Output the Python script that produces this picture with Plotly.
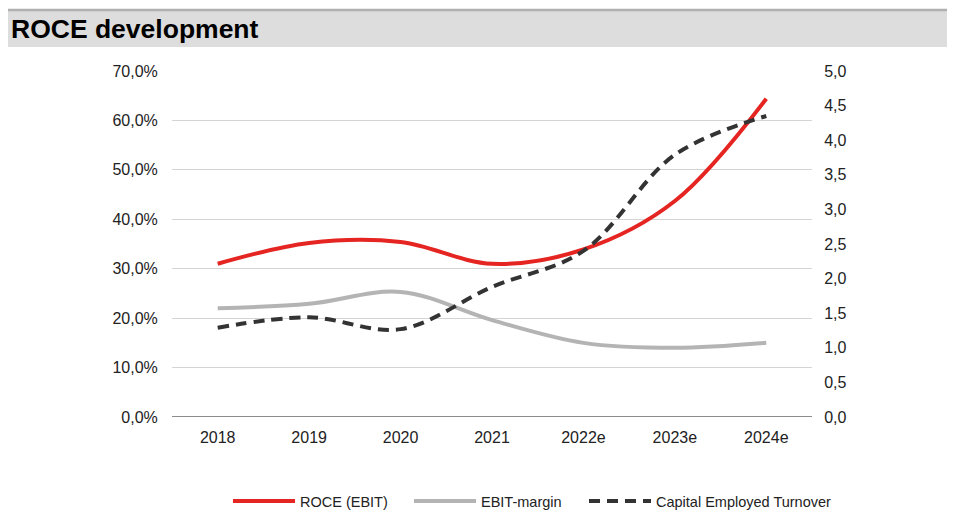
import plotly.graph_objects as go

years = ["2018", "2019", "2020", "2021", "2022e", "2023e", "2024e"]
roce = [0.310, 0.352, 0.354, 0.310, 0.339, 0.437, 0.644]
ebit_margin = [0.220, 0.229, 0.253, 0.196, 0.150, 0.140, 0.150]
cet = [1.29, 1.44, 1.27, 1.88, 2.40, 3.79, 4.35]

left_ticks = [0.0, 0.1, 0.2, 0.3, 0.4, 0.5, 0.6, 0.7]
right_ticks = [0.0, 0.5, 1.0, 1.5, 2.0, 2.5, 3.0, 3.5, 4.0, 4.5, 5.0]

FONT = "Liberation Sans, Arial, sans-serif"

# page is offset by 8px body margin
OFF = 8
W, H = 955 - OFF, 512 - OFF
L, T = 172 - OFF, 71 - OFF
PW, PH = 640, 346
R = W - L - PW
B = H - T - PH


def px(x_page):
    return (x_page - OFF - L) / PW


def py(y_page):
    return 1 - (y_page - OFF - T) / PH


fig = go.Figure()
fig.add_trace(go.Scatter(x=years, y=roce, name="ROCE (EBIT)", mode="lines", legend="legend",
                         line=dict(color="#e52521", width=4, shape="spline", smoothing=1.0)))
fig.add_trace(go.Scatter(x=years, y=ebit_margin, name="EBIT-margin", mode="lines", legend="legend2",
                         line=dict(color="#b4b4b4", width=4, shape="spline", smoothing=1.0)))
fig.add_trace(go.Scatter(x=years, y=cet, name="Capital Employed Turnover", mode="lines", yaxis="y2",
                         legend="legend3",
                         line=dict(color="#333333", width=4, dash="11px,7px", shape="spline", smoothing=1.0)))

leg_common = dict(orientation="h", xanchor="left", y=py(501), yanchor="middle",
                  font=dict(size=14.5, color="#222222"), itemwidth=62,
                  bgcolor="rgba(0,0,0,0)")

fig.update_layout(
    width=W, height=H,
    margin=dict(l=L, r=R, t=T, b=B, pad=0, autoexpand=False),
    paper_bgcolor="white", plot_bgcolor="white",
    separators=",.",
    font=dict(family=FONT, size=16, color="#222222"),
    showlegend=True,
    legend=dict(x=px(228), **leg_common),
    legend2=dict(x=px(409), **leg_common),
    legend3=dict(x=px(584), **leg_common),
    xaxis=dict(type="category", range=[-0.5, 6.5], showgrid=False, showline=False,
               ticks="outside", ticklen=6, tickcolor="rgba(0,0,0,0)",
               tickfont=dict(size=16), zeroline=False),
    yaxis=dict(range=[0, 0.7], tickvals=left_ticks, tickformat=".1%", showgrid=True,
               gridcolor="#d4d4d4", gridwidth=1, zeroline=False, showline=False, ticks="outside",
               ticklen=10, tickcolor="rgba(0,0,0,0)", tickfont=dict(size=16)),
    yaxis2=dict(range=[0, 5], tickvals=right_ticks, tickformat=".1f", overlaying="y", side="right",
                showgrid=False, zeroline=False, showline=False, ticks="outside", ticklen=8,
                tickcolor="rgba(0,0,0,0)", tickfont=dict(size=16)),
    shapes=[
        dict(type="rect", xref="paper", yref="paper", x0=px(5), x1=px(955),
             y0=py(47), y1=py(11),
             fillcolor="#dddddd", line=dict(width=0), layer="below"),
        dict(type="line", xref="paper", yref="paper", x0=px(5), x1=px(955),
             y0=py(10), y1=py(10),
             line=dict(color="#b0b0b0", width=2.5)),
        dict(type="line", xref="paper", yref="y", x0=0, x1=1, y0=0, y1=0,
             line=dict(color="#666666", width=1.5)),
    ],
    annotations=[
        dict(text="<b>ROCE development</b>", xref="paper", yref="paper",
             x=px(9), y=py(29), xanchor="left", yanchor="middle",
             showarrow=False, font=dict(family=FONT, size=26.5, color="#000000")),
    ],
)

fig.write_html("out.html")
